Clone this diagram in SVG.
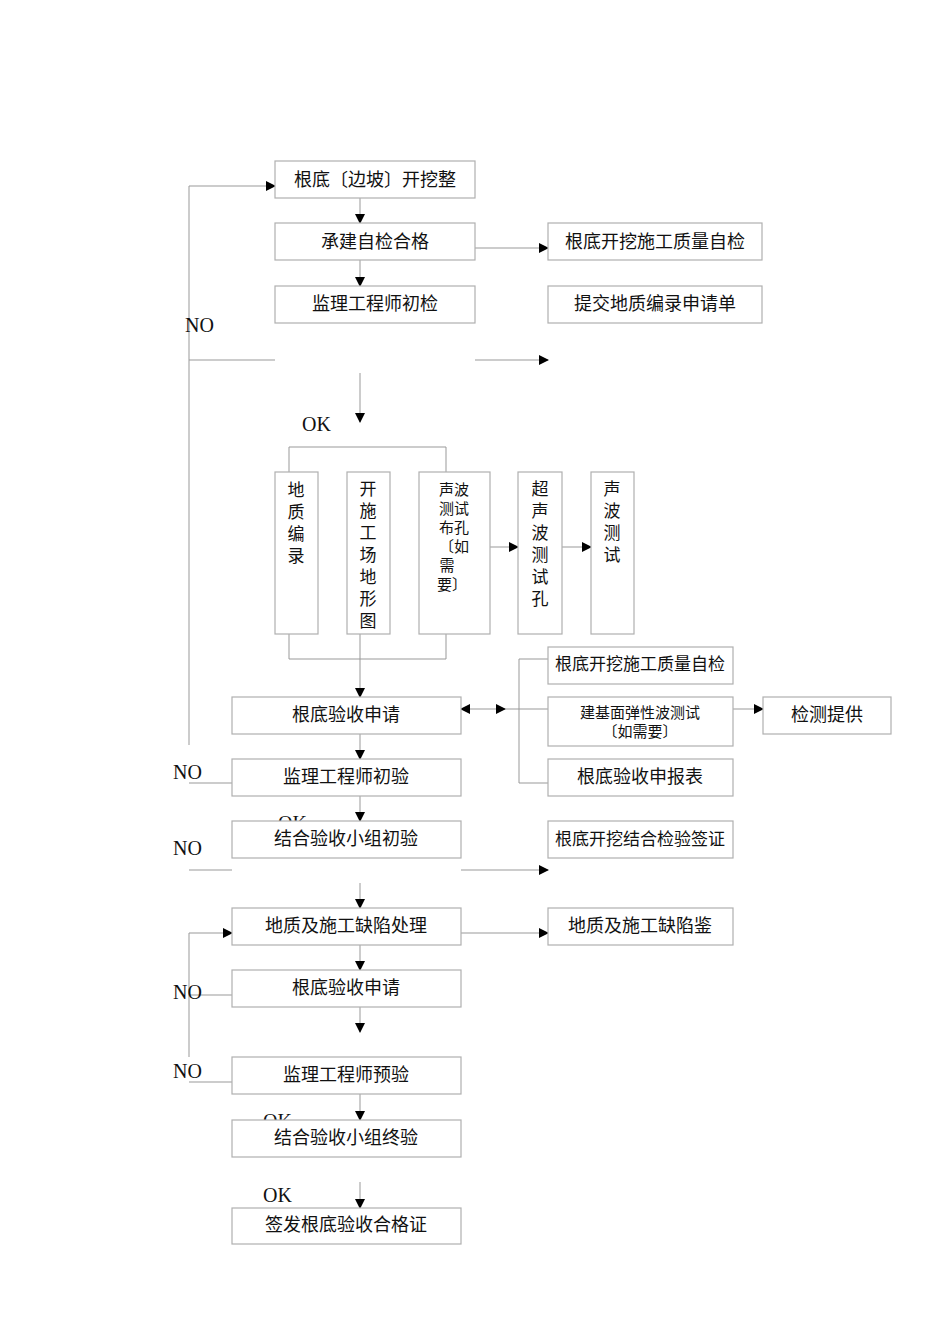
<svg xmlns="http://www.w3.org/2000/svg" width="950" height="1344" viewBox="0 0 950 1344">
<style>
rect{fill:#fff;stroke:#b0b0b0;stroke-width:1.2}
text{font-family:"Liberation Serif","Noto Sans CJK SC",serif;fill:#111}
.t{font-size:18px;text-anchor:middle}
.v{font-size:17px;text-anchor:middle}
.s{font-size:15px;text-anchor:middle}
.l{font-size:20px}
#c path,#c line,#c polyline{stroke:#999;stroke-width:1;fill:none}
</style>
<defs><marker id="a" markerWidth="10" markerHeight="10" refX="9" refY="5" orient="auto" markerUnits="userSpaceOnUse"><path d="M0,0L10,5L0,10z" fill="#000"/></marker>
<marker id="b" markerWidth="10" markerHeight="10" refX="1" refY="5" orient="auto" markerUnits="userSpaceOnUse"><path d="M10,0L0,5L10,10z" fill="#000"/></marker></defs>
<g id="c">
<polyline points="275,186 189,186 189,745" marker-start="url(#b)"/>
<line x1="360" y1="198" x2="360" y2="223" marker-end="url(#a)"/>
<line x1="360" y1="260" x2="360" y2="286" marker-end="url(#a)"/>
<line x1="475" y1="248" x2="548" y2="248" marker-end="url(#a)"/>
<line x1="189" y1="360" x2="275" y2="360"/>
<line x1="475" y1="360" x2="548" y2="360" marker-end="url(#a)"/>
<line x1="360" y1="373" x2="360" y2="422" marker-end="url(#a)"/>
<polyline points="289,472 289,447 446,447 446,472"/>
<line x1="490" y1="547" x2="518" y2="547" marker-end="url(#a)"/>
<line x1="562" y1="547" x2="591" y2="547" marker-end="url(#a)"/>
<polyline points="289,634 289,659 446,659 446,634"/>
<line x1="360" y1="634" x2="360" y2="697" marker-end="url(#a)"/>
<line x1="461" y1="709" x2="505" y2="709" marker-start="url(#b)" marker-end="url(#a)"/>
<line x1="505" y1="709" x2="548" y2="709"/>
<polyline points="548,659 519,659 519,783 548,783"/>
<line x1="733" y1="709" x2="763" y2="709" marker-end="url(#a)"/>
<line x1="360" y1="734" x2="360" y2="759" marker-end="url(#a)"/>
<line x1="189" y1="783" x2="232" y2="783"/>
<line x1="360" y1="796" x2="360" y2="821" marker-end="url(#a)"/>
<line x1="189" y1="870" x2="232" y2="870"/>
<line x1="461" y1="870" x2="548" y2="870" marker-end="url(#a)"/>
<line x1="360" y1="883" x2="360" y2="908" marker-end="url(#a)"/>
<line x1="461" y1="933" x2="548" y2="933" marker-end="url(#a)"/>
<polyline points="232,933 189,933 189,1057" marker-start="url(#b)"/>
<line x1="360" y1="945" x2="360" y2="970" marker-end="url(#a)"/>
<line x1="189" y1="995" x2="232" y2="995"/>
<line x1="360" y1="1007" x2="360" y2="1032" marker-end="url(#a)"/>
<line x1="189" y1="1082" x2="232" y2="1082"/>
<line x1="360" y1="1094" x2="360" y2="1120" marker-end="url(#a)"/>
<line x1="360" y1="1182" x2="360" y2="1208" marker-end="url(#a)"/>
</g>
<g id="n1"><rect x="275" y="161" width="200" height="37"/><text class="t" x="375" y="186">根底〔边坡〕开挖整</text></g>
<g id="n2"><rect x="275" y="223" width="200" height="37"/><text class="t" x="375" y="248">承建自检合格</text></g>
<g id="n3"><rect x="275" y="286" width="200" height="37"/><text class="t" x="375" y="310">监理工程师初检</text></g>
<g id="n4"><rect x="548" y="223" width="214" height="37"/><text class="t" x="655" y="248">根底开挖施工质量自检</text></g>
<g id="n5"><rect x="548" y="286" width="214" height="37"/><text class="t" x="655" y="310">提交地质编录申请单</text></g>
<g id="col1"><rect x="275" y="472" width="43" height="162"/><text class="v"><tspan x="296" y="496">地</tspan><tspan x="296" y="518">质</tspan><tspan x="296" y="540">编</tspan><tspan x="296" y="562">录</tspan></text></g>
<g id="col2"><rect x="347" y="472" width="43" height="162"/><text class="v"><tspan x="368" y="495">开</tspan><tspan x="368" y="517">施</tspan><tspan x="368" y="539">工</tspan><tspan x="368" y="561">场</tspan><tspan x="368" y="583">地</tspan><tspan x="368" y="605">形</tspan><tspan x="368" y="627">图</tspan></text></g>
<g id="col3"><rect x="419" y="472" width="71" height="162"/><text class="s"><tspan x="454" y="495">声波</tspan><tspan x="454" y="514">测试</tspan><tspan x="454" y="533">布孔</tspan><tspan x="454" y="552">〔如</tspan><tspan x="447" y="571">需</tspan><tspan x="452" y="590">要〕</tspan></text></g>
<g id="col4"><rect x="518" y="472" width="44" height="162"/><text class="v"><tspan x="540" y="495">超</tspan><tspan x="540" y="517">声</tspan><tspan x="540" y="539">波</tspan><tspan x="540" y="561">测</tspan><tspan x="540" y="583">试</tspan><tspan x="540" y="605">孔</tspan></text></g>
<g id="col5"><rect x="591" y="472" width="43" height="162"/><text class="v"><tspan x="612" y="495">声</tspan><tspan x="612" y="517">波</tspan><tspan x="612" y="539">测</tspan><tspan x="612" y="561">试</tspan></text></g>
<g id="n6"><rect x="232" y="697" width="229" height="37"/><text class="t" x="346" y="721">根底验收申请</text></g>
<g id="n7"><rect x="548" y="647" width="185" height="37"/><text class="s" x="640" y="670" style="font-size:17px">根底开挖施工质量自检</text></g>
<g id="n8"><rect x="548" y="697" width="185" height="49"/><text class="s" x="640" y="718">建基面弹性波测试</text><text class="s" x="640" y="737">〔如需要〕</text></g>
<g id="n9"><rect x="763" y="697" width="128" height="37"/><text class="t" x="827" y="721">检测提供</text></g>
<g id="n10"><rect x="548" y="759" width="185" height="37"/><text class="t" x="640" y="783">根底验收申报表</text></g>
<g id="n11"><rect x="232" y="759" width="229" height="37"/><text class="t" x="346" y="783">监理工程师初验</text></g>
<text class="l" x="278" y="830">OK</text>
<g id="n12"><rect x="232" y="821" width="229" height="37"/><text class="t" x="346" y="845">结合验收小组初验</text></g>
<g id="n13"><rect x="548" y="821" width="185" height="37"/><text class="s" x="640" y="845" style="font-size:17px">根底开挖结合检验签证</text></g>
<g id="n14"><rect x="232" y="908" width="229" height="37"/><text class="t" x="346" y="932">地质及施工缺陷处理</text></g>
<g id="n15"><rect x="548" y="908" width="185" height="37"/><text class="t" x="640" y="932">地质及施工缺陷鉴</text></g>
<g id="n16"><rect x="232" y="970" width="229" height="37"/><text class="t" x="346" y="994">根底验收申请</text></g>
<g id="n17"><rect x="232" y="1057" width="229" height="37"/><text class="t" x="346" y="1081">监理工程师预验</text></g>
<text class="l" x="263" y="1128">OK</text>
<g id="n18"><rect x="232" y="1120" width="229" height="37"/><text class="t" x="346" y="1144">结合验收小组终验</text></g>
<g id="n19"><rect x="232" y="1208" width="229" height="36"/><text class="t" x="346" y="1231">签发根底验收合格证</text></g>
<g id="labels">
<text class="l" x="185" y="332">NO</text>
<text class="l" x="302" y="431">OK</text>
<text class="l" x="173" y="779">NO</text>
<text class="l" x="173" y="855">NO</text>
<text class="l" x="173" y="999">NO</text>
<text class="l" x="173" y="1078">NO</text>
<text class="l" x="263" y="1202">OK</text>
</g>
</svg>
